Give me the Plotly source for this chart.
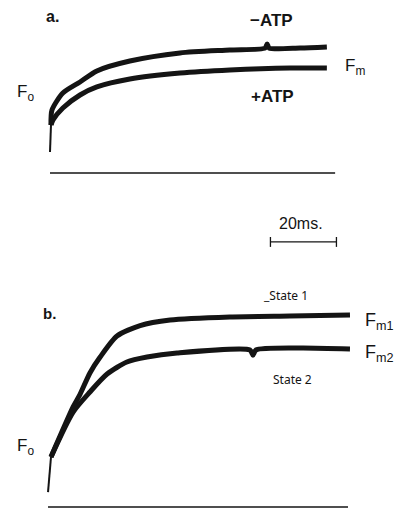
import plotly.graph_objects as go

# ---------------- data (time in ms, fluorescence in relative units) ----------------
# panel a: fluorescence induction, -ATP / +ATP
rise_a_t = [0.0, 0.3]
rise_a_f = [0.169, 0.387]
a_minus_t = [0.3, 0.6, 3.9, 9.1, 14.2, 24.2, 39.4, 54.5, 65.2, 65.8, 66.4, 75.8, 83.9]
a_minus_f = [0.387, 0.508, 0.645, 0.734, 0.823, 0.903, 0.968, 0.992, 1.008, 1.040, 1.008, 1.008, 1.016]
a_plus_t = [0.3, 0.9, 3.9, 9.1, 14.2, 24.2, 39.4, 54.5, 72.7, 83.9]
a_plus_f = [0.387, 0.427, 0.524, 0.629, 0.694, 0.758, 0.806, 0.831, 0.847, 0.847]
base_a_t = [0.0, 86.4]
base_a_f = [0.0, 0.0]

# panel b: State 1 / State 2
rise_b_t = [-0.6, 0.3]
rise_b_f = [0.078, 0.262]
b_state1_t = [0.3, 7.0, 9.1, 12.1, 15.2, 20.3, 27.3, 36.4, 54.5, 72.7, 90.9]
b_state1_f = [0.262, 0.524, 0.590, 0.702, 0.785, 0.895, 0.950, 0.979, 0.995, 1.000, 1.005]
b_state2_t = [0.3, 7.0, 12.1, 17.3, 23.3, 29.4, 38.5, 60.6, 61.5, 62.4, 75.8, 90.9]
b_state2_f = [0.262, 0.497, 0.602, 0.696, 0.759, 0.785, 0.806, 0.822, 0.795, 0.822, 0.832, 0.827]
base_b_t = [-0.6, 90.3]
base_b_f = [0.0, 0.0]

# time scale bar
scale_start_ms = 66.8
scale_len_ms = 20
scale_level = -0.556
scale_tick = 0.04

W, H = 409, 511
INK = "#141414"

fig = go.Figure()

def add(t, f, yax, width, shape="linear"):
    fig.add_trace(go.Scatter(x=t, y=f, yaxis=yax, mode="lines",
                             line=dict(color=INK, width=width, shape=shape, smoothing=0.7),
                             hoverinfo="skip", showlegend=False))

# panel a
add(rise_a_t, rise_a_f, "y", 2)
add(a_minus_t, a_minus_f, "y", 5, "spline")
add(a_plus_t, a_plus_f, "y", 5, "spline")
add(base_a_t, base_a_f, "y", 1.3)
# scale bar
s0, s1 = scale_start_ms, scale_start_ms + scale_len_ms
add([s0, s1], [scale_level, scale_level], "y", 1.3)
add([s0, s0], [scale_level - scale_tick, scale_level + scale_tick], "y", 1.3)
add([s1, s1], [scale_level - scale_tick, scale_level + scale_tick], "y", 1.3)

# panel b
add(rise_b_t, rise_b_f, "y2", 2)
add(b_state1_t, b_state1_f, "y2", 5, "spline")
add(b_state2_t, b_state2_f, "y2", 5, "spline")
add(base_b_t, base_b_f, "y2", 1.3)

def px(x):
    return x / W

def py(y):
    return 1 - y / H

FONT = "Liberation Sans, Arial, sans-serif"

def label(text, x, y, size, bold=False, xanchor="center", family=FONT):
    fig.add_annotation(text=text, x=px(x), y=py(y), xref="paper", yref="paper",
                       showarrow=False, xanchor=xanchor, yanchor="middle",
                       font=dict(family=family, size=size, color=INK,
                                 weight="bold" if bold else "normal"))

label("a.", 52, 17, 16, bold=True)
label("\u2212ATP", 271, 20, 17, bold=True)
label("+ATP", 272, 97, 17, bold=True)
label("F<sub>m</sub>", 343, 67, 17, xanchor="left")
label("F<sub>o</sub>", 15, 93, 17, xanchor="left")
label("20ms.", 301, 223, 16)
label("b.", 49, 313, 15, bold=True)
label("_State 1", 285, 295, 12, family="Noto Sans, sans-serif")
label("F<sub>m1</sub>", 363, 321, 18, xanchor="left")
label("F<sub>m2</sub>", 363, 353, 18, xanchor="left")
label("State 2", 292, 379, 12, family="Noto Sans, sans-serif")
label("F<sub>o</sub>", 15, 447, 17, xanchor="left")

x0_px = 50
ms_px = 3.3
fig.update_layout(
    width=W, height=H,
    margin=dict(l=0, r=0, t=0, b=0),
    paper_bgcolor="white", plot_bgcolor="white",
    xaxis=dict(range=[-x0_px / ms_px, (W - x0_px) / ms_px], visible=False, fixedrange=True),
    yaxis=dict(range=[(173 - H) / 124, 173 / 124], visible=False, fixedrange=True),
    yaxis2=dict(range=[(507 - H) / 191, 507 / 191], visible=False, overlaying="y", fixedrange=True),
    showlegend=False,
)

fig.write_html("out.html", config={"displayModeBar": False},
               post_script="document.body.style.margin='0';document.body.style.overflow='hidden';")
